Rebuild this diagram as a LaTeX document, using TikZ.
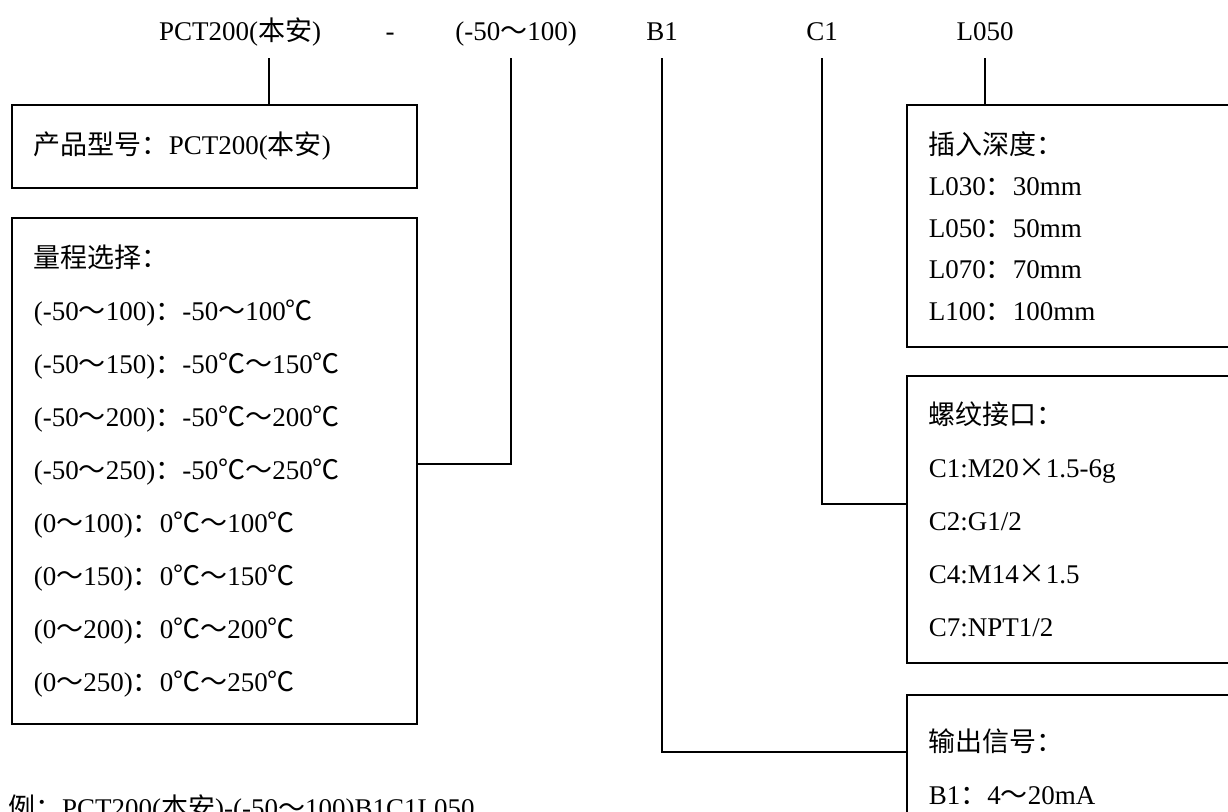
\documentclass[tikz,border=0pt]{standalone}
\usepackage{fontspec}
\setmainfont{Liberation Serif}
\newfontfamily\cjk{Noto Sans CJK SC}
\newcommand{\zh}[1]{{\cjk #1}}
\usetikzlibrary{positioning}

\begin{document}
\begin{tikzpicture}[x=1pt, y=-1pt,
  spec/.style={
    rectangle, draw=black, line width=1.6pt, anchor=north west,
    inner xsep=22pt, align=left, font=\fontsize{27}{53}\selectfont
  },
  code/.style={
    anchor=base, inner sep=0pt, font=\fontsize{27}{32}\selectfont
  },
  link/.style={
    line width=1.6pt, color=black
  }
]

% Frame
\path[fill=white, use as bounding box] (0,0) rectangle (1228,811);
\clip (0,0) rectangle (1228,811);

% Code line
\node[code] (model) at (240,40) {PCT200(\zh{本安})};
\node[code] (dash) at (390,40) {-};
\node[code] (span) at (516,40) {(-50\zh{～}100)};
\node[code] (sig) at (662,40) {B1};
\node[code] (thr) at (822,40) {C1};
\node[code] (len) at (985,40) {L050};

% Boxes
\node[spec, minimum width=405pt, minimum height=83pt, text width=361pt] (prod) at (11,104) {
  \zh{产品型号：}PCT200(\zh{本安})
};
\node[spec, minimum width=405pt, minimum height=506pt, text width=361pt] (ranges) at (11,217) {
  \zh{量程选择：} \\
  (-50\zh{～}100)\zh{：}-50\zh{～}100\zh{℃} \\
  (-50\zh{～}150)\zh{：}-50\zh{℃～}150\zh{℃} \\
  (-50\zh{～}200)\zh{：}-50\zh{℃～}200\zh{℃} \\
  (-50\zh{～}250)\zh{：}-50\zh{℃～}250\zh{℃} \\
  (0\zh{～}100)\zh{：}0\zh{℃～}100\zh{℃} \\
  (0\zh{～}150)\zh{：}0\zh{℃～}150\zh{℃} \\
  (0\zh{～}200)\zh{：}0\zh{℃～}200\zh{℃} \\
  (0\zh{～}250)\zh{：}0\zh{℃～}250\zh{℃}
};
\node[spec, minimum width=360pt, minimum height=242pt, text width=316pt,
  font=\fontsize{27}{41.5}\selectfont] (depth) at (906,104) {
  \zh{插入深度：} \\
  L030\zh{：}30mm \\
  L050\zh{：}50mm \\
  L070\zh{：}70mm \\
  L100\zh{：}100mm
};
\node[spec, minimum width=360pt, minimum height=287pt, text width=316pt] (thread) at (906,375) {
  \zh{螺纹接口：} \\
  C1:M20\zh{×}1.5-6g \\
  C2:G1/2 \\
  C4:M14\zh{×}1.5 \\
  C7:NPT1/2
};
\node[spec, minimum width=360pt, minimum height=144pt, text width=316pt] (signal) at (906,694) {
  \zh{输出信号：} \\
  B1\zh{：}4\zh{～}20mA
};

% Example
\node[code, anchor=base west] (sample) at (8,817) {\zh{例：}PCT200(\zh{本安})-(-50\zh{～}100)B1C1L050};

% Links
\draw[link] ([xshift=29pt, yshift=-18pt]model.base) -- ([xshift=29pt]model.base |- prod.north);
\draw[link] ([xshift=-5pt, yshift=-18pt]span.base) |- ([yshift=7pt]ranges.east);
\draw[link] ([yshift=-18pt]sig.base) |- ([yshift=15pt]signal.west);
\draw[link] ([yshift=-18pt]thr.base) |- ([yshift=15.5pt]thread.west);
\draw[link] ([yshift=-18pt]len.base) -- (len.base |- depth.north);

\end{tikzpicture}
\end{document}
